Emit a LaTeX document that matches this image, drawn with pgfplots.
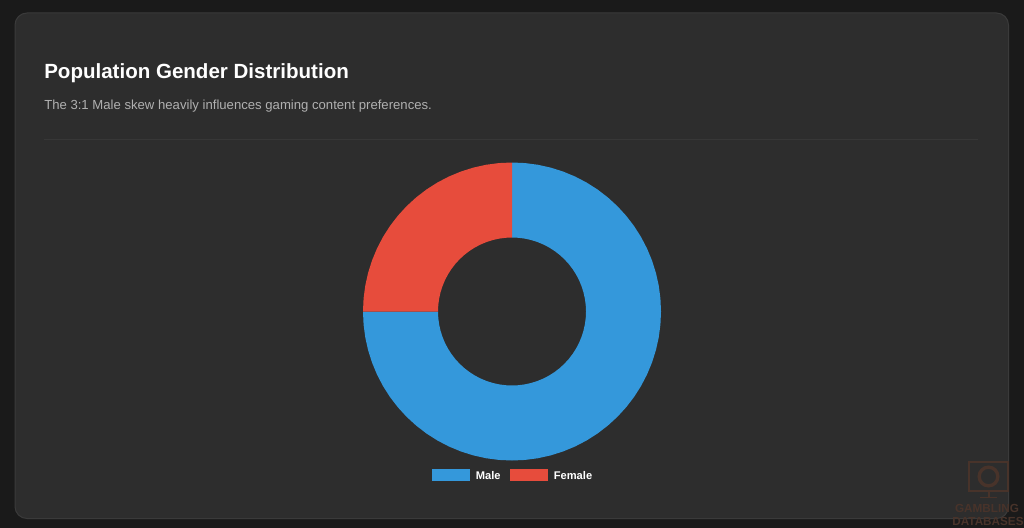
\documentclass[border=0pt]{standalone}
\usepackage{fontspec}
\setmainfont{Liberation Sans}
\usepackage{pgfplots}
\pgfplotsset{compat=1.18}

\definecolor{pagebg}{HTML}{1A1A1A}
\definecolor{cardbg}{HTML}{2D2D2D}
\definecolor{cardedge}{HTML}{3A3A3A}
\definecolor{divider}{HTML}{373737}
\definecolor{subtext}{HTML}{B0B0B0}
\definecolor{male}{HTML}{3498DB}
\definecolor{female}{HTML}{E74C3C}
\definecolor{wmark}{HTML}{48332A}

\begin{document}
\begin{tikzpicture}
  % coordinates in the scope are screen pixels from the top left corner
  \begin{scope}[x=0.75pt,y=-0.75pt]
  \useasboundingbox (0,0) rectangle (1024,528);
  \fill[pagebg] (0,0) rectangle (1024,528);
  \fill[cardbg,draw=cardedge,line width=0.75pt,rounded corners=9pt] (15,13) rectangle (1008.5,518.5);

  \node[anchor=base west,inner sep=0pt,text=white,font=\fontsize{15.4pt}{18pt}\selectfont\bfseries] at (44,78.5) {Population Gender Distribution};
  \node[anchor=base west,inner sep=0pt,text=subtext,font=\fontsize{9.85pt}{12pt}\selectfont] at (44,109) {The 3:1 Male skew heavily influences gaming content preferences.};
  \draw[divider,line width=0.75pt] (44,139.5) -- (978,139.5);
  \end{scope}

  \begin{axis}[
      at={(0pt,-396pt)},anchor=south west,
      scale only axis,width=768pt,height=396pt,
      axis lines=none,
      xmin=-512,xmax=512,ymin=-216.5,ymax=311.5,
      data cs=polar,
      clip=false,
      legend columns=2,
      legend image code/.code={\fill[#1] (0pt,-3.4pt) rectangle (28.5pt,5.6pt);\path (30.75pt,0pt);},
      legend style={
        at={(axis cs:1.5,-164.5)},anchor=center,
        draw=none,fill=none,text=white,
        font=\fontsize{8.35pt}{10pt}\selectfont\bfseries,
        /tikz/every even column/.append style={column sep=5.2pt},
        inner sep=0pt,
      },
    ]
    % Male 75%, clockwise from the top, ring outline as (angle, radius)
    \addplot[draw=none,fill=male] coordinates {
      (90,149)(85,149)(80,149)(75,149)(70,149)(65,149)(60,149)(55,149)(50,149)(45,149)
      (40,149)(35,149)(30,149)(25,149)(20,149)(15,149)(10,149)(5,149)(0,149)
      (-5,149)(-10,149)(-15,149)(-20,149)(-25,149)(-30,149)(-35,149)(-40,149)(-45,149)
      (-50,149)(-55,149)(-60,149)(-65,149)(-70,149)(-75,149)(-80,149)(-85,149)(-90,149)
      (-95,149)(-100,149)(-105,149)(-110,149)(-115,149)(-120,149)(-125,149)(-130,149)(-135,149)
      (-140,149)(-145,149)(-150,149)(-155,149)(-160,149)(-165,149)(-170,149)(-175,149)(-180,149)
      (-180,74)(-175,74)(-170,74)(-165,74)(-160,74)(-155,74)(-150,74)(-145,74)(-140,74)
      (-135,74)(-130,74)(-125,74)(-120,74)(-115,74)(-110,74)(-105,74)(-100,74)(-95,74)
      (-90,74)(-85,74)(-80,74)(-75,74)(-70,74)(-65,74)(-60,74)(-55,74)(-50,74)(-45,74)
      (-40,74)(-35,74)(-30,74)(-25,74)(-20,74)(-15,74)(-10,74)(-5,74)(0,74)
      (5,74)(10,74)(15,74)(20,74)(25,74)(30,74)(35,74)(40,74)(45,74)
      (50,74)(55,74)(60,74)(65,74)(70,74)(75,74)(80,74)(85,74)(90,74)
    } -- cycle;
    \addlegendentry{Male}
    % Female 25%
    \addplot[draw=none,fill=female] coordinates {
      (180,149)(175,149)(170,149)(165,149)(160,149)(155,149)(150,149)(145,149)(140,149)(135,149)
      (130,149)(125,149)(120,149)(115,149)(110,149)(105,149)(100,149)(95,149)(90,149)
      (90,74)(95,74)(100,74)(105,74)(110,74)(115,74)(120,74)(125,74)(130,74)(135,74)
      (140,74)(145,74)(150,74)(155,74)(160,74)(165,74)(170,74)(175,74)(180,74)
    } -- cycle;
    \addlegendentry{Female}
  \end{axis}

  % faint watermark, bottom right
  \begin{scope}[x=0.75pt,y=-0.75pt]
  \draw[wmark,line width=1pt] (969,462) rectangle (1008,491);
  \draw[wmark,line width=2.5pt] (988.5,476.5) circle [radius=7pt];
  \draw[wmark,line width=1.5pt] (988.5,491) -- (988.5,497);
  \draw[wmark,line width=1pt] (980,497.5) -- (997,497.5);
  \node[anchor=base,inner sep=0pt,text=wmark,font=\fontsize{8.8pt}{11pt}\selectfont\bfseries] at (987,512) {GAMBLING};
  \node[anchor=base,inner sep=0pt,text=wmark,font=\fontsize{8.8pt}{11pt}\selectfont\bfseries] at (988,525) {DATABASES};
  \end{scope}
\end{tikzpicture}
\end{document}
